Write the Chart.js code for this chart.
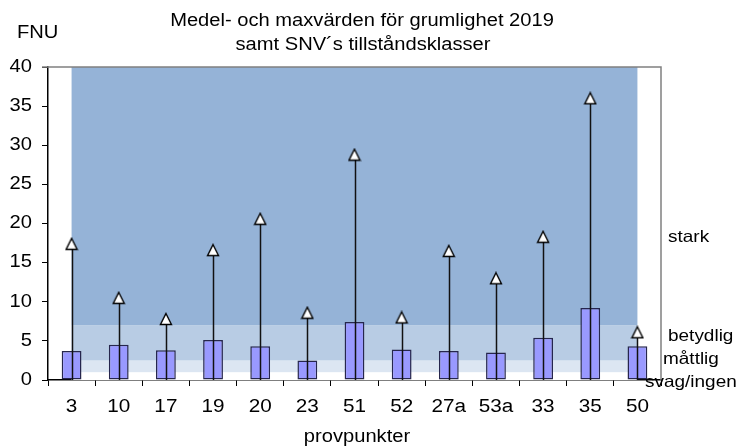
<!DOCTYPE html>
<html>
<head>
<meta charset="utf-8">
<script src="https://cdn.jsdelivr.net/npm/chart.js@4/dist/chart.umd.min.js"></script>
<style>
  html, body { margin: 0; padding: 0; background: #ffffff; }
  #wrap { width: 736px; height: 446px; }
</style>
</head>
<body>
<div id="wrap"><canvas id="chart" width="736" height="446"></canvas></div>
<script>
// Sampling sites (provpunkter)
const sites = ['3', '10', '17', '19', '20', '23', '51', '52', '27a', '53a', '33', '35', '50'];
// Mean turbidity per site, FNU
const meanValues = [3.7, 4.5, 3.8, 5.1, 4.3, 2.5, 7.4, 3.9, 3.7, 3.5, 5.4, 9.2, 4.3];
// Maximum turbidity per site, FNU
const maxValues = [17.4, 10.5, 7.8, 16.6, 20.6, 8.6, 28.8, 8.0, 16.5, 13.0, 18.3, 36.0, 6.1];
// Y axis ticks
const yTicks = [0, 5, 10, 15, 20, 25, 30, 35, 40];
// SNV condition classes for turbidity and their upper limits
const classNames = ['svag/ingen', 'måttlig', 'betydlig', 'stark'];
const classLimits = [1, 2.5, 7, 40];

const FONT = '"Liberation Sans", Arial, sans-serif';
const TEXT_STRETCH = 1.15;   // slightly expanded lettering
const bandColors = ['#ffffff', '#dce6f2', '#b8cce4', '#95b3d7'];

// Triangle marker with its box centred on the value
function makeTriangle(size) {
  const c = document.createElement('canvas');
  c.width = size + 3;
  c.height = size + 3;
  const g = c.getContext('2d');
  const o = 1.5;
  g.beginPath();
  g.moveTo(o + size / 2, o);
  g.lineTo(o + size, o + size);
  g.lineTo(o, o + size);
  g.closePath();
  g.fillStyle = '#ffffff';
  g.fill();
  g.lineWidth = 1.4;
  g.lineJoin = 'miter';
  g.strokeStyle = '#000000';
  g.stroke();
  return c;
}
const triangle = makeTriangle(11);

// Expanded text: every fillText is widened around its anchor
const stretchPlugin = {
  id: 'stretchText',
  beforeDraw(chart) {
    const ctx = chart.ctx;
    if (ctx.__expanded) return;
    const plain = ctx.fillText.bind(ctx);
    ctx.fillText = function (text, x, y) {
      this.save();
      this.translate(x, y);
      this.scale(TEXT_STRETCH, 1);
      plain(text, 0, 0);
      this.restore();
    };
    ctx.__expanded = true;
  }
};

// Class bands spanning from the first to the last site
const bandsPlugin = {
  id: 'bands',
  beforeDatasetsDraw(chart) {
    const { ctx, scales: { x, y } } = chart;
    const x0 = x.getPixelForValue(0);
    const x1 = x.getPixelForValue(sites.length - 1);
    let lower = 0;
    ctx.save();
    classLimits.forEach((upper, i) => {
      const yTop = y.getPixelForValue(upper);
      const yBot = y.getPixelForValue(lower);
      ctx.fillStyle = bandColors[i];
      ctx.fillRect(x0, yTop, x1 - x0, yBot - yTop);
      lower = upper;
    });
    ctx.restore();
  }
};

// Vertical lines from zero up to each maximum
const whiskerPlugin = {
  id: 'whiskers',
  afterDatasetDraw(chart, args) {
    if (args.index !== 1) return;
    const { ctx, scales: { x, y } } = chart;
    ctx.save();
    ctx.strokeStyle = '#111111';
    ctx.lineWidth = 1.5;
    maxValues.forEach((v, i) => {
      const px = Math.round(x.getPixelForValue(i)) + 0.5;
      ctx.beginPath();
      ctx.moveTo(px, y.getPixelForValue(0));
      ctx.lineTo(px, y.getPixelForValue(v) + 4);
      ctx.stroke();
    });
    ctx.restore();
  }
};

// Frame, title, unit and class labels
const textPlugin = {
  id: 'texts',
  afterDraw(chart) {
    const { ctx, chartArea: a } = chart;
    ctx.save();
    ctx.strokeStyle = '#808080';
    ctx.lineWidth = 1.5;
    ctx.beginPath();
    ctx.moveTo(a.left - 6, a.top);
    ctx.lineTo(a.right, a.top);
    ctx.lineTo(a.right, a.bottom);
    ctx.stroke();

    ctx.fillStyle = '#000000';
    ctx.textBaseline = 'middle';
    ctx.textAlign = 'center';
    ctx.font = '17.5px ' + FONT;
    ctx.fillText('Medel- och maxvärden för grumlighet 2019', 362, 21);
    ctx.fillText('samt SNV´s tillståndsklasser', 363, 45);
    ctx.font = '17.5px ' + FONT;
    ctx.fillText('provpunkter', 357, 437);
    ctx.textAlign = 'left';
    ctx.fillText('FNU', 17, 33);
    ctx.font = '16.5px ' + FONT;
    ctx.fillText(classNames[3], 668, 237);
    ctx.fillText(classNames[2], 668, 336);
    ctx.fillText(classNames[1], 663, 359);
    ctx.fillText(classNames[0], 645, 382);
    ctx.restore();
  }
};

new Chart(document.getElementById('chart'), {
  type: 'bar',
  data: {
    labels: sites,
    datasets: [
      {
        type: 'line',
        label: 'max',
        data: maxValues,
        showLine: false,
        pointStyle: triangle,
        pointRadius: 6,
        pointHoverRadius: 6,
        order: 0
      },
      {
        type: 'bar',
        label: 'medel',
        data: meanValues,
        backgroundColor: '#9999ff',
        borderColor: '#26264d',
        borderWidth: 1.5,
        borderSkipped: false,
        categoryPercentage: 1,
        barPercentage: 0.42,
        order: 1
      }
    ]
  },
  options: {
    responsive: false,
    animation: false,
    events: [],
    layout: { padding: { top: 67, right: 75, left: 0, bottom: 0 } },
    plugins: { legend: { display: false }, tooltip: { enabled: false }, title: { display: false } },
    scales: {
      x: {
        type: 'category',
        offset: true,
        afterFit(s) { s.height = 66; },
        grid: { display: true, drawOnChartArea: false, offset: true, tickLength: 6, color: '#000000', lineWidth: 1 },
        border: { color: '#000000', width: 1.5 },
        ticks: { color: '#000000', font: { family: FONT, size: 18 }, padding: 10, maxRotation: 0 }
      },
      y: {
        min: 0,
        max: 40,
        afterFit(s) { s.width = 48; },
        afterBuildTicks(s) { s.ticks = yTicks.map(v => ({ value: v })); },
        grid: { display: true, drawOnChartArea: false, tickLength: 6, color: '#000000', lineWidth: 1 },
        border: { color: '#000000', width: 1.5 },
        ticks: { color: '#000000', font: { family: FONT, size: 17.5 }, padding: 10 }
      }
    }
  },
  plugins: [stretchPlugin, bandsPlugin, whiskerPlugin, textPlugin]
});
</script>
</body>
</html>
